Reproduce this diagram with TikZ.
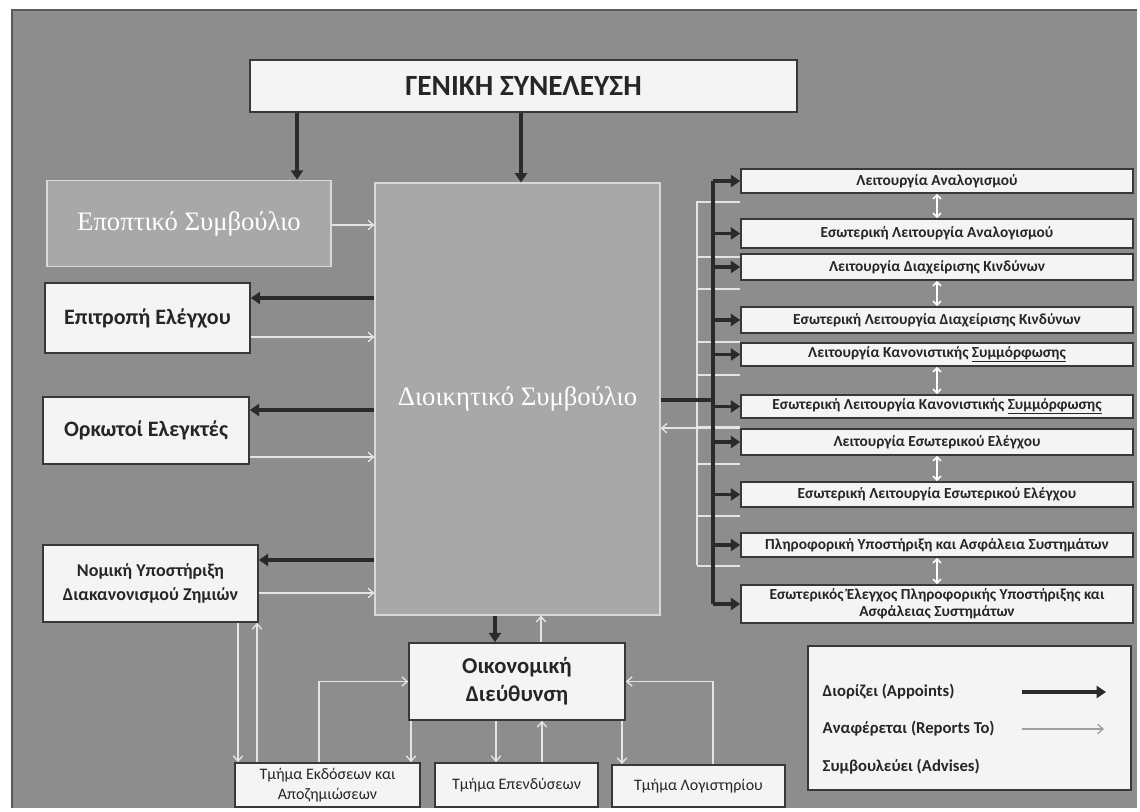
\documentclass[tikz,border=0pt]{standalone}
\usepackage{fontspec}
\setmainfont{Carlito}
\newfontfamily\grserif{Liberation Serif}
\usetikzlibrary{arrows.meta,calc}
\definecolor{bgc}{HTML}{8D8D8D}
\definecolor{boxfill}{HTML}{F4F4F4}
\definecolor{boxline}{HTML}{383838}
\definecolor{bigfill}{HTML}{A8A8A8}
\definecolor{appc}{HTML}{2A2A2A}
\definecolor{repc}{HTML}{E4E4E4}
\definecolor{txtc}{HTML}{262626}
\tikzset{
  wbox/.style={draw=boxline, line width=1.2pt, fill=boxfill, inner sep=2pt, align=center, text=txtc},
  gbox/.style={draw=white!70!gray, line width=0.8pt, fill=bigfill, align=center, text=white, font=\grserif\fontsize{20}{22}\selectfont},
  rbox/.style={wbox, minimum width=294pt, inner sep=1pt, font=\bfseries\fontsize{11.5}{12.5}\selectfont},
  appoint/.style={draw=appc, line width=2.4pt, -{Triangle[length=7pt,width=9pt]}},
  report/.style={draw=repc, line width=1.4pt, -{Straight Barb[length=4pt,width=7pt,line width=1pt]}},
  repline/.style={draw=repc, line width=1.4pt},
  apline/.style={draw=appc, line width=2.4pt},
  both/.style={draw=white, line width=1.2pt, {Straight Barb[length=3pt,width=6pt]}-{Straight Barb[length=3pt,width=6pt]}},
  legtext/.style={anchor=west, text=txtc, font=\bfseries\fontsize{12.5}{14}\selectfont},
}
\begin{document}
\begin{tikzpicture}[x=0.75pt,y=-0.75pt]
\useasboundingbox (0,0) rectangle (1140,812);
\fill[white] (0,0) rectangle (1140,812);
\fill[bgc] (12,10) rectangle (1137,808);
\draw[black!65, line width=1pt] (12,808) -- (12,10) -- (1137,10);

% helper coordinates
\coordinate (x297) at (297,0);
\coordinate (x521) at (521,0);
\coordinate (x495) at (495,0);
\coordinate (x541) at (541,0);
\coordinate (x238) at (238,0);
\coordinate (x257) at (257,0);
\coordinate (x319) at (319,0);
\coordinate (x411) at (411,0);
\coordinate (x496) at (496,0);
\coordinate (x542) at (542,0);
\coordinate (x622) at (622,0);
\coordinate (x713) at (713,0);
\coordinate (y225) at (0,225);
\coordinate (y298) at (0,298);
\coordinate (y337) at (0,337);
\coordinate (y410) at (0,410);
\coordinate (y457) at (0,457);
\coordinate (y560) at (0,560);
\coordinate (y593) at (0,593);
\coordinate (y400) at (0,400);

% main nodes
\node[wbox, minimum width=410pt, minimum height=39pt, font=\bfseries\fontsize{22}{24}\selectfont] (gen) at (523.5,86) {ΓΕΝΙΚΗ ΣΥΝΕΛΕΥΣΗ};
\node[gbox, minimum width=213pt, minimum height=65pt] (epo) at (189,223.5) {Εποπτικό Συμβούλιο};
\node[gbox, minimum width=213.75pt, minimum height=324pt] (dio) at (517.5,399) {Διοικητικό Συμβούλιο};
\node[wbox, minimum width=153.75pt, minimum height=52.5pt, font=\bfseries\fontsize{16.5}{19}\selectfont] (epi) at (147.5,318) {Επιτροπή Ελέγχου};
\node[wbox, minimum width=154.5pt, minimum height=50.25pt, font=\bfseries\fontsize{16.5}{19}\selectfont] (ork) at (146,430.5) {Ορκωτοί Ελεγκτές};
\node[wbox, minimum width=161.25pt, minimum height=57.75pt, font=\bfseries\fontsize{13.5}{18}\selectfont] (nom) at (150.5,583.5) {Νομική Υποστήριξη\\Διακανονισμού Ζημιών};
\node[wbox, minimum width=162pt, minimum height=57.75pt, font=\bfseries\fontsize{17}{21}\selectfont] (oik) at (517,681.5) {Οικονομική\\Διεύθυνση};
\node[wbox, minimum width=138.75pt, minimum height=33pt, font=\fontsize{12}{14.5}\selectfont] (ekd) at (327.5,785) {Τμήμα Εκδόσεων και\\Αποζημιώσεων};
\node[wbox, minimum width=122.25pt, minimum height=33pt, font=\fontsize{12}{14.5}\selectfont] (epe) at (516.5,785) {Τμήμα Επενδύσεων};
\node[wbox, minimum width=129.75pt, minimum height=31.5pt, font=\fontsize{12}{14.5}\selectfont] (log) at (698.5,786) {Τμήμα Λογιστηρίου};

% right column
\node[rbox, minimum height=18pt] (R1) at (937,181) {Λειτουργία Αναλογισμού};
\node[rbox, minimum height=21.75pt] (R2) at (937,233.5) {Εσωτερική Λειτουργία Αναλογισμού};
\node[rbox, minimum height=19.5pt] (R3) at (937,267) {Λειτουργία Διαχείρισης Κινδύνων};
\node[rbox, minimum height=19.5pt] (R4) at (937,320) {Εσωτερική Λειτουργία Διαχείρισης Κινδύνων};
\node[rbox, minimum height=17.25pt] (R5) at (937,354.5) {Λειτουργία Κανονιστικής \underline{Συμμόρφωσης}};
\node[rbox, minimum height=17.25pt] (R6) at (937,406.5) {Εσωτερική Λειτουργία Κανονιστικής \underline{Συμμόρφωσης}};
\node[rbox, minimum height=19.5pt] (R7) at (937,442) {Λειτουργία Εσωτερικού Ελέγχου};
\node[rbox, minimum height=18.75pt] (R8) at (937,494.5) {Εσωτερική Λειτουργία Εσωτερικού Ελέγχου};
\node[rbox, minimum height=18pt] (R9) at (937,545) {Πληροφορική Υποστήριξη και Ασφάλεια Συστημάτων};
\node[rbox, minimum height=28.5pt] (R10) at (937,604) {Εσωτερικός Έλεγχος Πληροφορικής Υποστήριξης και\\Ασφάλειας Συστημάτων};

% legend
\node[wbox, minimum width=242pt, minimum height=108pt] (leg) at (969.5,718) {};
\node[legtext] (l1) at (818,692) {Διορίζει (Appoints)};
\node[legtext] (l2) at (818,729) {Αναφέρεται (Reports To)};
\node[legtext] (l3) at (818,767) {Συμβουλεύει (Advises)};
\coordinate (a1s) at (1022,692);
\coordinate (a1e) at (1106,692);
\coordinate (a2s) at (1022,729);
\coordinate (a2e) at (1104,729);
\draw[appoint, line width=3pt] (a1s) -- (a1e);
\draw[report, draw=gray!75] (a2s) -- (a2e);

% appoints connectors
\draw[appoint] (gen.south -| x297) -- (epo.north -| x297);
\draw[appoint] (gen.south -| x521) -- (dio.north -| x521);
\draw[appoint] (dio.west |- y298) -- (epi.east |- y298);
\draw[appoint] (dio.west |- y410) -- (ork.east |- y410);
\draw[appoint] (dio.west |- y560) -- (nom.east |- y560);
\draw[appoint] (dio.south -| x495) -- (oik.north -| x495);

% reports connectors (left)
\draw[report] (epo.east |- y225) -- (dio.west |- y225);
\draw[report] (epi.east |- y337) -- (dio.west |- y337);
\draw[report] (ork.east |- y457) -- (dio.west |- y457);
\draw[report] (nom.east |- y593) -- (dio.west |- y593);
\draw[report] (oik.north -| x541) -- (dio.south -| x541);

% bottom connectors
\draw[report] (nom.south -| x238) -- (ekd.north -| x238);
\draw[report] (ekd.north -| x257) -- (nom.south -| x257);
\draw[report] (ekd.north -| x319) |- (oik.west);
\draw[report] (oik.south -| x411) -- (ekd.north -| x411);
\draw[report] (oik.south -| x496) -- (epe.north -| x496);
\draw[report] (epe.north -| x542) -- (oik.south -| x542);
\draw[report] (oik.south -| x622) -- (log.north -| x622);
\draw[report] (log.north -| x713) |- (oik.east);

% right light bus (reports)
\coordinate (lbT) at (697,201);
\coordinate (lbB) at (697,565);
\draw[repline] (lbT) -- (lbB);
\foreach \r in {R1,R2,R3,R4,R5,R6,R7,R8,R9}
  \draw[repline] ([yshift=-6pt]\r.south west) -- ([yshift=-6pt]\r.south west -| lbT);
\draw[report] (R7.north west) -- (dio.east |- R7.north west);

% right dark bus (appoints)
\coordinate (busT) at (713,181);
\coordinate (busB) at (713,604);
\draw[apline] (dio.east |- y400) -- (y400 -| busT);
\draw[apline] (busT) -- (busB);
\foreach \r in {R1,R2,R3,R4,R5,R6,R7,R8,R9,R10}
  \draw[appoint] (\r.west -| busT) -- (\r.west);

% bidirectional links
\draw[both] (R1.south) -- (R2.north);
\draw[both] (R3.south) -- (R4.north);
\draw[both] (R5.south) -- (R6.north);
\draw[both] (R7.south) -- (R8.north);
\draw[both] (R9.south) -- (R10.north);
\end{tikzpicture}
\end{document}
